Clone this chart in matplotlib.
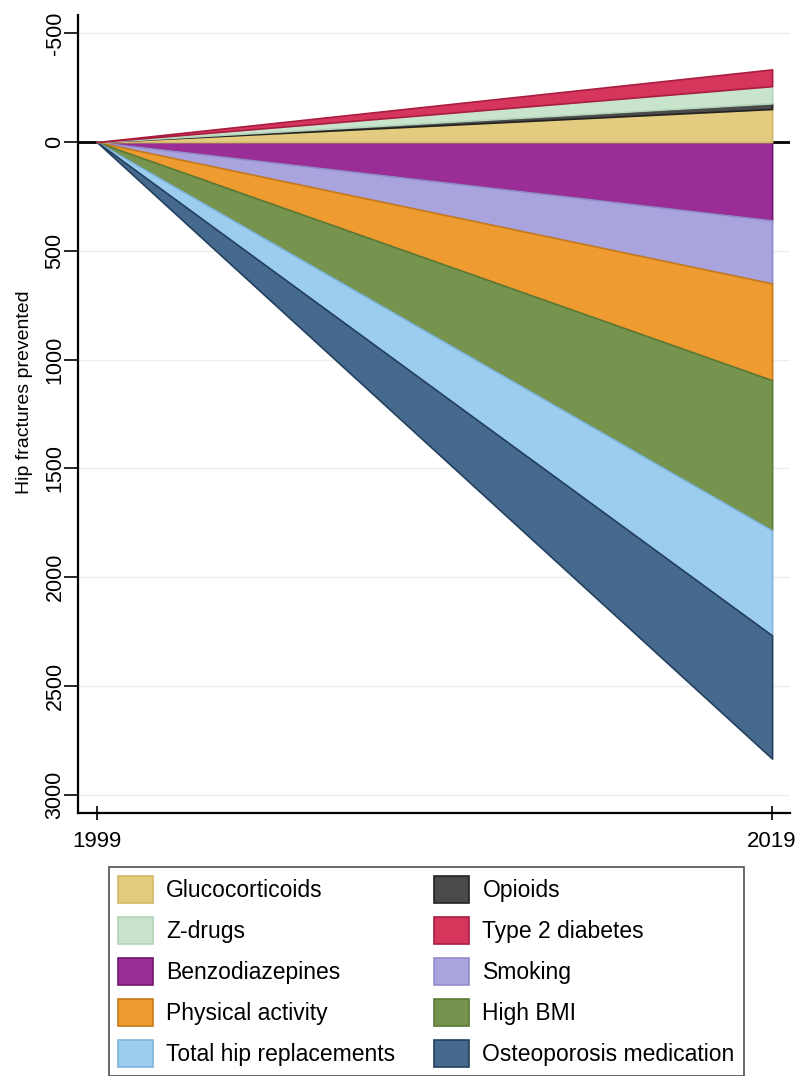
import numpy as np
import matplotlib.pyplot as plt
from matplotlib.patches import Patch

plt.rcParams['font.family'] = ['Liberation Sans', 'DejaVu Sans']

## Data ##
years = [1999, 2019]
# hip fractures prevented (negative = additional fractures), 1999 -> 2019
prevented = {
    'Benzodiazepines': [0, 360],
    'Smoking': [0, 290],
    'Physical activity': [0, 445],
    'High BMI': [0, 690],
    'Total hip replacements': [0, 483],
    'Osteoporosis medication': [0, 566],
}
caused = {
    'Glucocorticoids': [0, -152],
    'Opioids': [0, -26],
    'Z-drugs': [0, -79],
    'Type 2 diabetes': [0, -77],
}
colors = {
    'Glucocorticoids': ('#e3cb7f', '#d4b86a'),
    'Opioids': ('#4a4a4a', '#222222'),
    'Z-drugs': ('#c9e4cd', '#b5d3b9'),
    'Type 2 diabetes': ('#d6365c', '#a81d40'),
    'Benzodiazepines': ('#9a2e96', '#6e1a6b'),
    'Smoking': ('#a9a3de', '#938cc9'),
    'Physical activity': ('#ee9b32', '#c67a1a'),
    'High BMI': ('#77944f', '#5a7a36'),
    'Total hip replacements': ('#9dcdee', '#7fb5db'),
    'Osteoporosis medication': ('#466a8e', '#223f5e'),
}
legend_order = ['Glucocorticoids', 'Z-drugs', 'Benzodiazepines', 'Physical activity',
                'Total hip replacements', 'Opioids', 'Type 2 diabetes', 'Smoking',
                'High BMI', 'Osteoporosis medication']
yticks = [-500, 0, 500, 1000, 1500, 2000, 2500, 3000]

fig = plt.figure(figsize=(7.98, 10.76), dpi=100)
ax = fig.add_axes([78/798, 1-813/1076, (790-78)/798, (813-15)/1076])

x = np.array(years)
for group in (prevented, caused):
    base = np.zeros(len(years))
    for name, vals in group.items():
        top = base + np.array(vals)
        fc, ec = colors[name]
        ax.fill_between(x, base, top, facecolor=fc, edgecolor=ec, linewidth=1.2, zorder=2)
        base = top

# zero line sits under the areas
ax.axhline(0, color='black', linewidth=2, zorder=1.5)

ax.set_xlim(1998.44, 2019.53)
ax.set_ylim(3084, -584)
ax.set_yticks(yticks)
ax.set_yticklabels([str(t) for t in yticks], rotation=90, va='center', fontsize=15.5)
ax.set_xticks(years)
ax.set_xticklabels([str(y) for y in years], fontsize=16)
ax.tick_params(axis='y', direction='out', length=10, width=1.2, pad=-1)
ax.tick_params(axis='x', direction='inout', length=10, width=1.2, pad=8)
ax.grid(axis='y', color='#eeeeee', linewidth=1, zorder=0)
ax.set_axisbelow(True)
for s in ['top', 'right']:
    ax.spines[s].set_visible(False)
for s in ['left', 'bottom']:
    ax.spines[s].set_linewidth(1.6)
ax.set_ylabel('Hip fractures prevented', fontsize=14)
ax.yaxis.set_label_coords(-0.063, 0.5276)

handles = [Patch(facecolor=colors[n][0], edgecolor=colors[n][1], linewidth=1.2, label=n)
           for n in legend_order]
leg = fig.legend(handles=handles, ncol=2, loc='upper left',
                 bbox_to_anchor=(109/798, 1-867/1076), fontsize=16.5,
                 frameon=True, fancybox=False, edgecolor='#222222',
                 handlelength=1.5, handleheight=1.45, handletextpad=0.6,
                 labelspacing=0.6, columnspacing=1.7, borderpad=0.4,
                 borderaxespad=0)
leg.get_frame().set_linewidth(1.2)

fig.savefig('out.png', dpi=100, facecolor='white')
